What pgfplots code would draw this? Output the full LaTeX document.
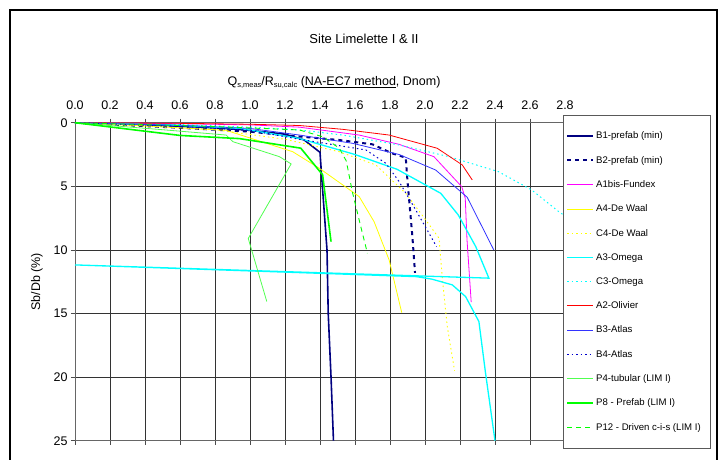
\documentclass[border=0pt]{standalone}
\usepackage{pgfplots}
\pgfplotsset{compat=1.18}
\usepackage{fontspec}
\setmainfont{Liberation Sans}
\definecolor{navyc}{HTML}{000080}
\definecolor{magc}{HTML}{FF00FF}
\definecolor{yelc}{HTML}{FFFF00}
\definecolor{cyac}{HTML}{00FFFF}
\definecolor{redc}{HTML}{FF0000}
\definecolor{b3c}{HTML}{3333FF}
\definecolor{b4c}{HTML}{0000CC}
\definecolor{p4c}{HTML}{50FF50}
\definecolor{grnc}{HTML}{00FF00}
\newcommand\legent[1]{\makebox[109pt][l]{#1}}
\newcommand\sub[1]{\raisebox{-2.3pt}{\fontsize{7.5}{8}\selectfont #1}}
\begin{document}
\begin{tikzpicture}
\begin{axis}[
  scale only axis, width=490pt, height=318pt,
  xmin=0, xmax=2.8, ymin=0, ymax=25, y dir=reverse,
  xtick={0,0.2,0.4,0.6,0.8,1.0,1.2,1.4,1.6,1.8,2.0,2.2,2.4,2.6,2.8},
  ytick={0,5,10,15,20,25},
  xticklabel pos=upper,
  grid=major,
  major grid style={black!80, line width=0.6pt},
  axis line style={black!60, line width=0.8pt},
  tick style={black!70, line width=0.6pt},
  tick align=outside, major tick length=4pt,
  /pgf/number format/assume math mode=true,
  xticklabel style={font=\fontsize{12.5}{14}\selectfont, yshift=6pt,
     /pgf/number format/fixed, /pgf/number format/fixed zerofill,
     /pgf/number format/precision=1},
  yticklabel style={font=\fontsize{12.5}{14}\selectfont},
  title={Site Limelette I \& II},
  title style={at={(axis description cs:0.5898,1.2308)}, anchor=base, font=\fontsize{13}{15}\selectfont},
  xlabel={Q\sub{s,meas}/R\sub{su,calc} (\underline{NA-EC7 method}, Dnom)},
  xlabel style={at={(axis description cs:0.5286,1.1164)}, anchor=base, font=\fontsize{12.5}{14}\selectfont},
  ylabel={Sb/Db (\%)},
  ylabel style={at={(axis description cs:-0.0776,0.5)}, anchor=center, font=\fontsize{12.5}{14}\selectfont},
  legend cell align=left,
  legend style={at={(axis description cs:0.9959,1.0242)}, anchor=north west,
     draw=black!65, fill=white, inner xsep=3pt, inner ysep=14.7pt, row sep=11.85pt,
     font=\fontsize{9.6}{11}\selectfont, nodes={inner sep=2pt}},
  legend image code/.code={\draw[#1] (7.7pt,0pt) -- (33.7pt,0pt);},
]
% B1-prefab (min)
\addplot[draw=navyc, line width=1.6pt] coordinates {(0,0) (0.4,0.15) (0.8,0.4) (1.0,0.6) (1.2,0.9) (1.31,1.36) (1.40,2.33) (1.413,4.9) (1.44,10) (1.447,15) (1.463,20) (1.477,25)};
\addlegendentry{\legent{B1-prefab (min)}}
% B2-prefab (min)
\addplot[draw=navyc, line width=2pt, dash pattern=on 4pt off 4pt] coordinates {(0,0) (0.6,0.4) (1.0,0.7) (1.21,1.0) (1.51,1.36) (1.70,1.70) (1.81,2.40) (1.89,2.75) (1.90,4.6) (1.928,8.96) (1.943,11.8)};
\addlegendentry{\legent{B2-prefab (min)}}
% A1bis-Fundex
\addplot[draw=magc, line width=0.8pt] coordinates {(0,0) (0.6,0.08) (1.0,0.17) (1.282,0.35) (1.624,0.97) (1.852,1.70) (2.051,2.67) (2.21,5.03) (2.23,5.94) (2.24,9.2) (2.264,14.1)};
\addlegendentry{\legent{A1bis-Fundex}}
% A4-De Waal
\addplot[draw=yelc, line width=0.8pt] coordinates {(0,0) (0.4,0.25) (0.864,0.6) (1.244,2.28) (1.396,3.58) (1.624,5.81) (1.709,7.78) (1.795,10.79) (1.867,14.93)};
\addlegendentry{\legent{A4-De Waal}}
% C4-De Waal
\addplot[draw=yelc, line width=0.9pt, dash pattern=on 1.5pt off 3pt] coordinates {(0,0) (0.8,0.55) (1.2,1.3) (1.51,2.28) (1.719,3.32) (1.89,5.55) (2.004,7.64) (2.08,9.08) (2.10,12.36) (2.127,16.0) (2.169,19.5)};
\addlegendentry{\legent{C4-De Waal}}
% A3-Omega
\addplot[draw=cyac, line width=1.3pt] coordinates {(0,0) (0.5,0.15) (0.94,0.44) (1.28,1.23) (1.6,2.5) (1.84,3.66) (2.09,5.55) (2.19,7.25) (2.29,9.74) (2.365,12.22) (0,11.18) (1.95,12.1) (2.04,12.3) (2.156,12.75) (2.232,13.67) (2.308,15.63) (2.346,19.69) (2.40,25)};
\addlegendentry{\legent{A3-Omega}}
% C3-Omega
\addplot[draw=cyac, line width=1pt, dash pattern=on 1.5pt off 3pt] coordinates {(0,0) (0.6,0.15) (1.0,0.35) (1.282,0.57) (1.53,0.97) (1.852,1.75) (2.137,2.67) (2.42,3.85) (2.61,5.29) (2.764,6.99) (2.85,7.8)};
\addlegendentry{\legent{C3-Omega}}
% A2-Olivier
\addplot[draw=redc, line width=0.8pt] coordinates {(0,0) (0.6,0.05) (1.0,0.12) (1.282,0.22) (1.53,0.52) (1.795,0.97) (2.07,2.01) (2.213,3.32) (2.27,4.5)};
\addlegendentry{\legent{A2-Olivier}}
% B3-Atlas
\addplot[draw=b3c, line width=0.8pt] coordinates {(0,0) (0.6,0.2) (1.0,0.45) (1.282,0.97) (1.586,1.62) (1.852,2.5) (2.061,3.72) (2.241,5.86) (2.393,10.0)};
\addlegendentry{\legent{B3-Atlas}}
% B4-Atlas
\addplot[draw=b4c, line width=1pt, dash pattern=on 1.5pt off 3pt] coordinates {(0,0) (0.6,0.3) (1.0,0.6) (1.282,1.3) (1.662,2.14) (1.776,3.19) (1.852,4.63) (1.947,6.86) (2.023,8.69) (2.066,9.74)};
\addlegendentry{\legent{B4-Atlas}}
% P4-tubular (LIM I)
\addplot[draw=p4c, line width=0.8pt] coordinates {(0,0) (0.5,0.55) (0.864,0.97) (0.902,1.49) (1.168,2.67) (1.235,3.24) (0.99,9.1) (1.096,14.06)};
\addlegendentry{\legent{P4-tubular (LIM I)}}
% P8 - Prefab (LIM I)
\addplot[draw=grnc, line width=1.6pt] coordinates {(0,0) (0.6,1.0) (0.94,1.25) (1.29,2.0) (1.415,4.1) (1.463,9.35)};
\addlegendentry{\legent{P8 - Prefab (LIM I)}}
% P12 - Driven c-i-s (LIM I)
\addplot[draw=grnc, line width=0.9pt, dash pattern=on 5pt off 4pt] coordinates {(0,0) (0.8,0.3) (1.282,0.57) (1.415,1.1) (1.51,2.0) (1.55,3.0) (1.586,5.5) (1.63,8.0) (1.671,10.26)};
\addlegendentry{\legent{P12 - Driven c-i-s (LIM I)}}
\end{axis}
\draw[black, line width=1.8pt, shift={(current axis.south west)}] (-65pt,-40pt) -- (-65pt,430.7pt) -- (642pt,430.7pt) -- (642pt,-40pt);
\pgfresetboundingbox
\path[use as bounding box, shift={(current axis.south west)}] (-75pt,-18.3pt) rectangle (651pt,440.7pt);
\end{tikzpicture}
\end{document}
